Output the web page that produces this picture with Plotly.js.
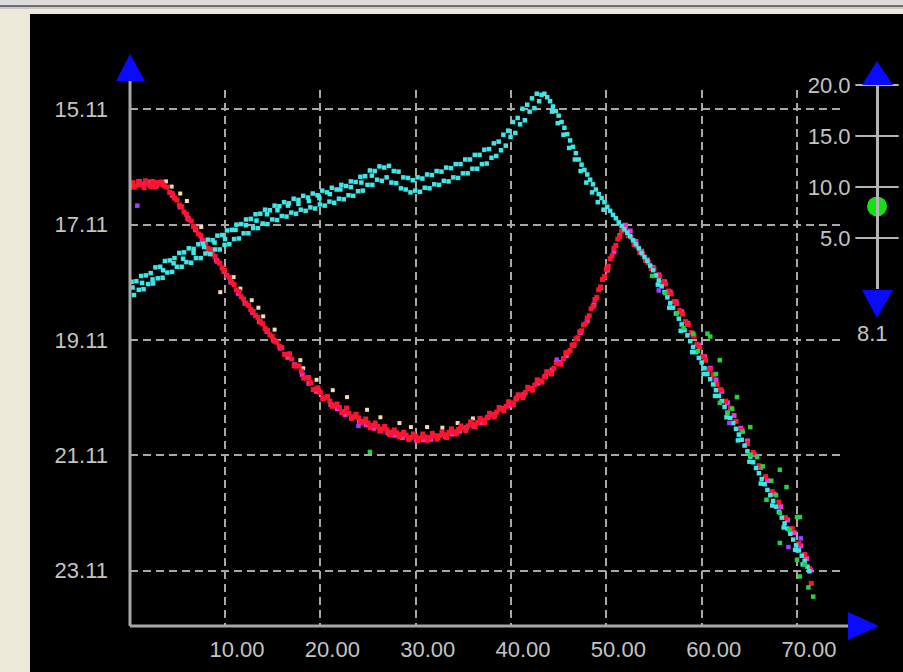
<!DOCTYPE html>
<html>
<head>
<meta charset="utf-8">
<script src="https://cdn.plot.ly/plotly-3.0.1.min.js"></script>
<style>
  html, body { margin:0; padding:0; width:903px; height:672px; overflow:hidden; background:#ece9d8; }
  #topA { position:absolute; left:0; top:0; width:903px; height:5px; background:#dcdcdc; }
  #topB { position:absolute; left:0; top:5px; width:903px; height:2px; background:#6e6e6e; }
  #topC { position:absolute; left:0; top:7px; width:903px; height:2px; background:#c8c8c8; }
  #chart { position:absolute; left:30px; top:14px; width:873px; height:658px; background:#000; }
</style>
</head>
<body>
<div id="topA"></div><div id="topB"></div><div id="topC"></div>
<div id="chart"></div>
<script>
// ---------------- data ----------------
const xTickVals = [10, 20, 30, 40, 50, 60, 70];
const xTickText = ['10.00', '20.00', '30.00', '40.00', '50.00', '60.00', '70.00'];
const yTickVals = [15.11, 17.11, 19.11, 21.11, 23.11];
const yTickText = ['15.11', '17.11', '19.11', '21.11', '23.11'];
const sliderTicks = [20, 15, 10, 5];
const sliderValue = 8.1;

const redX = [0.3,0.6,0.9,1.2,1.5,1.8,2.1,2.4,2.7,3.0,3.3,3.6,3.9,
  0.45,1.05,1.65,2.25,2.85,3.45,
  4.2,4.45,4.7,4.95,5.2,5.45,5.7,5.95,6.2,6.45,6.7,6.95,7.2,7.45,7.7,7.95,8.2,8.45,8.7,8.95,9.2,9.45,9.7,9.95,
  10.2,10.45,10.7,10.95,11.2,11.45,11.7,11.95,12.2,12.45,12.7,12.95,13.2,13.45,13.7,13.95,14.2,14.45,14.7,14.95,15.2,15.45,15.7,15.95,
  16.5,17.0,17.5,18.0,18.5,19.0,19.5,20.0,20.5,21.0,21.5,22.0,22.5,23.0,23.5,24.0,24.5,25.0,25.5,26.0,26.5,27.0,27.5,28.0,28.5,29.0,29.5,30.0,
  30.5,31.0,31.5,32.0,32.5,33.0,33.5,34.0,34.5,35.0,35.5,36.0,36.5,37.0,37.5,38.0,38.5,39.0,39.5,40.0,40.5,41.0,41.5,42.0,42.5,43.0,43.5,44.0,44.5,45.0,45.5,46.0,
  16.25,16.75,17.25,17.75,18.25,18.75,19.25,19.75,20.25,20.75,21.25,21.75,22.25,22.75,23.25,23.75,24.25,24.75,25.25,25.75,26.25,26.75,27.25,27.75,28.25,28.75,29.25,29.75,
  30.25,30.75,31.25,31.75,32.25,32.75,33.25,33.75,34.25,34.75,35.25,35.75,36.25,36.75,37.25,37.75,38.25,38.75,39.25,39.75,40.25,40.75,41.25,41.75,42.25,42.75,43.25,43.75,44.25,44.75,45.25,45.75,
  46.2,46.4,46.6,46.8,47.0,47.2,47.4,47.6,47.8,48.0,48.2,48.4,48.6,48.8,49.0,49.2,49.4,49.6,49.8,50.0,50.2,50.4,50.6,50.8,51.0,51.2,51.4,51.6,51.8,
  52.0,52.3,52.6,52.9,53.2,53.5,53.8,54.1,54.4,54.7,55.0,55.3,55.6,55.9,56.2,56.5,56.8,57.1,57.4,57.7,58.0,58.3,58.6,58.9,59.2,59.5,59.8,60.1,60.4,60.8,
  61.2,61.6,62.0,62.5,63.0,63.6,64.2,64.8,65.4,66.0,66.7,67.4,68.1,68.8,69.5,70.2,70.8,71.3,71.5];
const redY = [16.38,16.44,16.36,16.42,16.47,16.39,16.43,16.36,16.45,16.40,16.37,16.44,16.46,
  16.46,16.41,16.35,16.45,16.38,16.41,
  16.55,16.57,16.65,16.68,16.77,16.8,16.89,16.93,17.02,17.05,17.14,17.18,17.27,17.3,17.39,17.43,17.52,17.54,17.62,17.66,17.75,17.78,17.86,17.9,
  17.99,18.02,18.11,18.15,18.24,18.27,18.36,18.4,18.48,18.51,18.58,18.61,18.69,18.72,18.8,18.83,18.91,18.94,19.02,19.05,19.13,19.15,19.22,19.24,
  19.36,19.44,19.56,19.65,19.77,19.85,19.96,20.02,20.11,20.17,20.24,20.28,20.35,20.38,20.44,20.46,20.52,20.55,20.59,20.61,20.65,20.67,20.71,20.72,20.75,20.76,20.8,20.78,
  20.81,20.79,20.8,20.77,20.77,20.75,20.71,20.7,20.66,20.64,20.6,20.57,20.54,20.5,20.46,20.41,20.36,20.31,20.26,20.2,20.14,20.08,20.02,19.95,19.89,19.82,19.75,19.68,19.6,19.52,19.43,19.32,
  19.36,19.35,19.56,19.56,19.77,19.76,19.97,19.94,20.13,20.09,20.26,20.22,20.37,20.29,20.47,20.4,20.55,20.48,20.63,20.55,20.69,20.61,20.75,20.67,20.79,20.71,20.83,20.74,
  20.85,20.74,20.85,20.73,20.83,20.71,20.8,20.65,20.74,20.6,20.68,20.53,20.61,20.47,20.54,20.38,20.44,20.28,20.34,20.18,20.23,20.06,20.11,19.93,19.98,19.8,19.84,19.66,19.7,19.5,19.53,19.33,
  19.29,19.2,19.19,19.09,19.07,18.97,18.95,18.85,18.83,18.73,18.69,18.57,18.53,18.41,18.37,18.24,18.19,18.06,18.01,17.88,17.83,17.7,17.65,17.52,17.47,17.36,17.32,17.22,17.2,
  17.2,17.3,17.33,17.45,17.48,17.59,17.62,17.73,17.77,17.87,17.88,17.99,18.01,18.11,18.14,18.26,18.31,18.44,18.48,18.6,18.66,18.79,18.84,18.98,19.04,19.18,19.24,19.4,19.46,19.62,
  19.71,19.88,19.97,20.17,20.29,20.52,20.68,20.91,21.06,21.29,21.48,21.74,21.92,22.19,22.38,22.64,22.83,23.07,23.33];

const magentaX = [0.4,1.0,1.6,2.2,2.8,3.4,
  4.5,5.3,6.1,6.9,7.6,8.4,9.1,9.9,10.6,11.4,12.1,12.9,13.6,14.4,15.1,15.8,
  16.6,17.3,18.1,18.8,19.6,20.3,21.1,21.8,22.6,23.3,24.1,24.8,25.6,26.3,27.1,27.8,28.6,29.3,30.1,30.8,31.6,32.3,33.1,33.8,34.6,35.3,36.1,36.8,
  37.6,38.3,39.1,39.8,40.6,41.3,42.1,42.8,43.6,44.3,45.1,45.8,46.6,47.3,48.0,48.7,49.4,50.1,50.8,51.4,
  52.0,52.5,53.1,53.7,54.3,54.9,55.5,56.1,56.7,57.3,57.9,58.5,59.1,59.7,60.3,60.9,61.5,62.1,62.7,63.4,64.1,64.8,65.5,66.2,66.9,67.6,68.3,69.0,69.7,70.4,71.0,71.4];
const magentaY = [16.45,16.36,16.4,16.37,16.43,16.38,
  16.6,16.8,17.0,17.2,17.38,17.57,17.73,17.92,18.1,18.3,18.47,18.63,18.79,18.96,19.11,19.25,
  19.41,19.54,19.71,19.86,20.0,20.12,20.23,20.3,20.4,20.46,20.52,20.58,20.64,20.68,20.72,20.76,20.8,20.83,20.85,20.84,20.83,20.8,20.78,20.74,20.69,20.63,20.6,20.54,
  20.45,20.4,20.3,20.25,20.12,20.06,19.95,19.86,19.74,19.63,19.5,19.38,19.2,18.98,18.78,18.5,18.2,17.9,17.58,17.3,
  17.12,17.22,17.4,17.57,17.72,17.85,17.98,18.1,18.28,18.45,18.62,18.82,19.02,19.2,19.4,19.6,19.8,20.0,20.2,20.42,20.64,20.86,21.1,21.32,21.55,21.78,22.0,22.23,22.45,22.68,22.9,23.1];

const cyanX = [0.2,0.7,1.2,1.7,2.2,2.7,3.2,3.7,4.2,4.7,5.2,5.7,6.2,6.7,7.2,7.7,8.2,8.7,9.2,9.7,
  10.2,10.7,11.2,11.7,12.2,12.7,13.2,13.7,14.2,14.7,15.2,15.7,16.2,16.7,17.2,17.7,18.2,18.7,19.2,19.7,
  20.2,20.7,21.2,21.7,22.2,22.7,23.2,23.7,24.2,24.7,25.2,25.7,26.2,26.7,27.2,27.7,28.2,28.7,29.2,29.7,
  30.2,30.7,31.2,31.7,32.2,32.7,33.2,33.7,34.2,34.7,35.2,35.7,36.2,36.7,37.2,37.7,38.2,38.7,39.2,39.7,
  40.2,40.7,41.2,41.7,42.2,42.7,
  0.45,0.95,1.45,1.95,2.45,2.95,3.45,3.95,4.45,4.95,5.45,5.95,6.45,6.95,7.45,7.95,8.45,8.95,9.45,9.95,
  10.45,10.95,11.45,11.95,12.45,12.95,13.45,13.95,14.45,14.95,15.45,15.95,16.45,16.95,17.45,17.95,18.45,18.95,19.45,19.95,
  20.45,20.95,21.45,21.95,22.45,22.95,23.45,23.95,24.45,24.95,25.45,25.95,26.45,26.95,27.45,27.95,28.45,28.95,29.45,29.95,
  30.45,30.95,31.45,31.95,32.45,32.95,33.45,33.95,34.45,34.95,35.45,35.95,36.45,36.95,37.45,37.95,38.45,38.95,39.45,39.95,
  40.45,40.95,41.45,41.95,42.45,42.95,
  43.2,43.5,43.8,44.1,44.4,44.7,45.0,45.3,45.6,45.9,46.2,46.5,46.8,47.1,47.4,47.7,48.0,48.3,48.6,48.9,
  49.2,49.5,49.8,50.1,50.4,50.7,51.0,51.3,51.6,51.9,52.2,52.5,52.8,53.1,53.4,53.7,54.0,54.3,54.6,54.9,
  55.2,55.5,55.8,56.1,56.4,56.7,57.0,57.3,57.6,57.9,58.2,58.5,58.8,59.1,59.4,59.7,60.0,60.3,60.6,60.9,
  61.2,61.5,61.8,62.1,62.4,62.7,63.0,63.3,63.6,63.9,64.2,64.5,64.8,65.1,65.4,65.7,66.0,66.3,66.6,66.9,
  67.2,67.5,67.8,68.1,68.4,68.7,69.0,69.3,69.6,69.9,70.2,70.5,70.8,71.1,71.3,
  44.3,44.9,45.5,46.1,46.7,47.3,47.9,48.5,49.1,49.7,
  55.4,56.6,57.8,59.0,60.2,61.4,62.6,63.8,65.0,66.2,67.4,68.6,69.8,70.6,
  0.3,1.3,2.4,3.5,4.6,5.6,6.7,7.8,8.9,10.0,11.1,12.2,13.3,14.4,15.5,16.6,17.7,18.8,19.9,21.0,22.1,23.2,24.3,25.4];
const cyanY = [18.10,18.09,18.0,17.99,17.95,17.85,17.84,17.74,17.73,17.69,17.6,17.59,17.52,17.53,17.45,17.44,17.37,17.38,17.3,17.29,
  17.21,17.2,17.11,17.1,17.02,17.01,16.93,16.92,16.85,16.86,16.78,16.79,16.72,16.74,16.66,16.68,16.61,16.64,16.57,16.6,
  16.52,16.55,16.47,16.5,16.42,16.44,16.36,16.37,16.28,16.27,16.17,16.18,16.1,16.12,16.09,16.18,16.19,16.29,16.3,16.34,
  16.29,16.31,16.24,16.25,16.18,16.19,16.12,16.13,16.06,16.06,15.98,15.98,15.9,15.9,15.81,15.8,15.7,15.67,15.55,15.48,
  15.33,15.26,15.1,15.03,14.92,14.84,
  18.33,18.24,18.23,18.14,18.13,18.04,18.03,17.94,17.93,17.84,17.84,17.76,17.77,17.69,17.69,17.61,17.62,17.54,17.54,17.46,
  17.45,17.36,17.35,17.26,17.26,17.17,17.17,17.09,17.1,17.02,17.03,16.96,16.97,16.9,16.92,16.85,16.87,16.81,16.83,16.76,
  16.78,16.71,16.73,16.66,16.67,16.6,16.61,16.53,16.52,16.42,16.42,16.33,16.35,16.29,16.38,16.39,16.48,16.5,16.55,16.52,
  16.54,16.47,16.48,16.41,16.42,16.35,16.36,16.29,16.3,16.22,16.22,16.14,16.14,16.06,16.05,15.95,15.92,15.82,15.74,15.59,
  15.52,15.37,15.3,15.15,15.09,14.97,
  14.86,14.84,14.9,14.97,15.06,15.14,15.22,15.33,15.43,15.54,15.65,15.76,15.87,15.98,16.07,16.16,16.24,16.33,16.41,16.5,
  16.58,16.65,16.72,16.8,16.87,16.94,17.0,17.07,17.13,17.19,17.25,17.31,17.38,17.45,17.52,17.6,17.67,17.74,17.82,17.9,
  17.99,18.08,18.18,18.28,18.37,18.47,18.55,18.65,18.74,18.84,18.94,19.03,19.13,19.23,19.32,19.42,19.5,19.6,19.7,19.79,
  19.88,19.98,20.08,20.17,20.27,20.37,20.46,20.55,20.65,20.75,20.84,20.94,21.04,21.13,21.23,21.33,21.42,21.52,21.61,21.71,
  21.8,21.9,22.0,22.09,22.19,22.29,22.38,22.47,22.57,22.67,22.76,22.85,22.94,23.04,23.12,
  15.15,15.35,15.55,15.78,15.98,16.18,16.38,16.55,16.72,16.85,
  18.15,18.55,18.95,19.32,19.7,20.08,20.45,20.85,21.22,21.6,21.98,22.36,22.75,23.0,
  18.2,18.12,18.06,17.9,17.78,17.7,17.6,17.5,17.42,17.36,17.2,17.12,17.04,16.93,16.86,16.78,16.75,16.7,16.65,16.58,16.5,16.46,16.38,16.26];

const greenX = [25.2,54.8,56.2,57.4,58.1,59.1,59.6,60.6,60.9,61.5,61.9,61.9,62.7,63.2,63.7,64.3,65.1,65.1,65.8,66.4,
  66.8,67.3,67.8,68.2,68.2,68.2,68.9,69.2,70.0,70.0,70.3,70.3,70.8,71.2,71.7];
const greenY = [21.05,18.0,18.3,18.65,18.9,19.0,19.3,19.0,19.05,19.7,19.46,20.2,20.38,20.3,20.1,20.7,20.62,21.1,21.14,21.3,
  21.88,21.55,21.8,21.36,22.11,22.63,21.66,22.4,22.18,22.92,22.18,23.21,23.0,23.4,23.56];

const beigeX = [3.8,4.4,5.3,6.0,7.5,8.3,9.5,10.9,11.6,12.8,13.5,14.0,15.2,16.8,17.9,18.2,19.6,21.3,22.8,24.9,26.3,28.3,29.5,31.2,32.8,34.4,36.0];
const beigeY = [16.36,16.45,16.57,16.7,17.15,17.55,18.28,18.02,18.22,18.42,18.55,18.7,18.93,19.35,19.46,19.6,19.8,19.98,20.1,20.32,20.45,20.55,20.62,20.62,20.63,20.55,20.47];

const purpleX = [0.8,24.0,44.8,55.5,62.9,69.1,70.4];
const purpleY = [16.78,20.6,19.45,18.25,20.55,22.7,22.55];

// ---------------- layout helpers (page px -> paper fraction) ----------------
const PL = 130, PR = 903, PT = 55, PB = 626;
const fx = v => (v - PL) / (PR - PL);
const fy = v => (PB - v) / (PB - PT);
const tri = pts => 'M ' + pts.map(p => fx(p[0]) + ',' + fy(p[1])).join(' L ') + ' Z';

const gridStyle = { showgrid: true, gridcolor: '#a8a8a8', gridwidth: 2, griddash: '8px,5px', zeroline: false, showline: false, ticks: '' };
const tickFont = { family: 'Liberation Sans, Arial, sans-serif', size: 22, color: '#c4c4c4' };

function pts(x, y, color, size) {
  return { x: x, y: y, type: 'scatter', mode: 'markers', hoverinfo: 'skip',
    marker: { symbol: 'square', size: size || 5, color: color, line: { width: 0 } } };
}

const traces = [
  pts(beigeX, beigeY, '#f2dcb0', 4),
  pts(magentaX, magentaY, '#f030d8'),
  pts(redX, redY, '#ff1430'),
  pts(cyanX, cyanY, '#3ee6e6', 4.5),
  pts(greenX, greenY, '#22d43a', 4.5),
  pts(purpleX, purpleY, '#a040ff', 4.5),
  { x: sliderTicks.map(() => 0), y: sliderTicks, xaxis: 'x2', yaxis: 'y2', type: 'scatter', mode: 'markers',
    hoverinfo: 'skip', cliponaxis: false,
    marker: { symbol: 'line-ew', size: 31, color: '#b4b4b4', line: { color: '#b4b4b4', width: 2 } } },
  { x: [0], y: [sliderValue], xaxis: 'x2', yaxis: 'y2', type: 'scatter', mode: 'markers',
    hoverinfo: 'skip', cliponaxis: false,
    marker: { symbol: 'circle', size: 20, color: '#14e014', line: { width: 0 } } }
];

const blue = '#0a0aff';
const layout = {
  width: 873, height: 658,
  margin: { l: PL - 30, r: 0, t: PT - 14, b: 672 - PB, pad: 0 },
  paper_bgcolor: '#000000', plot_bgcolor: '#000000',
  showlegend: false,
  xaxis: Object.assign({}, gridStyle, {
    domain: [0, fx(842)], range: [0.031, 74.72],
    tickvals: xTickVals, ticktext: xTickText, tickfont: tickFont,
    ticklabelshift: 12, ticklabelstandoff: 8, fixedrange: true
  }),
  yaxis: Object.assign({}, gridStyle, {
    domain: [0, fy(90)], range: [24.069, 14.775],
    tickvals: yTickVals, ticktext: yTickText, tickfont: tickFont,
    ticklabelstandoff: 21, fixedrange: true
  }),
  xaxis2: { domain: [0.9514, 0.9814], range: [-1, 1], anchor: 'y2', visible: false, fixedrange: true },
  yaxis2: {
    domain: [fy(289), fy(85)], range: [0, 20], anchor: 'free', position: fx(877), side: 'left',
    showline: true, linecolor: '#b4b4b4', linewidth: 3, showgrid: false, zeroline: false, ticks: '',
    tickvals: sliderTicks, ticktext: sliderTicks.map(v => v.toFixed(1)), tickfont: tickFont,
    ticklabelstandoff: 21, fixedrange: true
  },
  shapes: [
    { type: 'line', xref: 'paper', yref: 'paper', x0: fx(130), y0: fy(626), x1: fx(130), y1: fy(78), line: { color: '#a8a8a8', width: 3 } },
    { type: 'line', xref: 'paper', yref: 'paper', x0: fx(130), y0: fy(626), x1: fx(850), y1: fy(626), line: { color: '#a8a8a8', width: 3 } },
    { type: 'path', xref: 'paper', yref: 'paper', path: tri([[130, 54], [116, 81], [145, 81]]), fillcolor: blue, line: { width: 0 } },
    { type: 'path', xref: 'paper', yref: 'paper', path: tri([[879, 626], [848, 612], [848, 640]]), fillcolor: blue, line: { width: 0 } },
    { type: 'path', xref: 'paper', yref: 'paper', path: tri([[877, 61], [862, 85], [893, 85]]), fillcolor: blue, line: { width: 0 } },
    { type: 'path', xref: 'paper', yref: 'paper', path: tri([[877, 318], [862, 290], [893, 290]]), fillcolor: blue, line: { width: 0 } }
  ],
  annotations: [
    { xref: 'paper', yref: 'paper', x: fx(872), y: fy(333), text: sliderValue.toFixed(1), showarrow: false,
      xanchor: 'center', yanchor: 'middle', font: tickFont }
  ]
};

Plotly.newPlot('chart', traces, layout, { displayModeBar: false, staticPlot: true });
</script>
</body>
</html>
